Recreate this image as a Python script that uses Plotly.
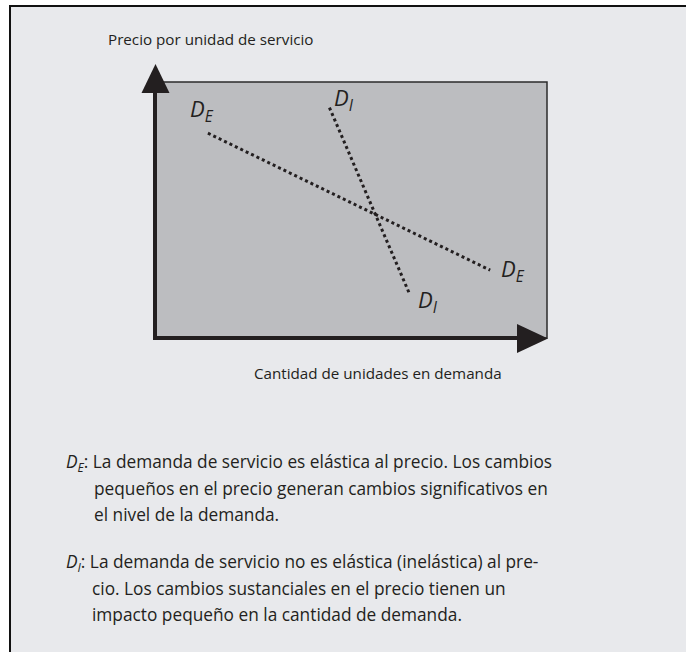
import plotly.graph_objects as go

# Demanda elástica vs. inelástica (unidades conceptuales 0-10)
de_x = [1.35, 8.55]
de_y = [8.0, 2.65]
di_x = [4.45, 6.5]
di_y = [9.0, 1.7]

eje_y_titulo = "Precio por unidad de servicio"
eje_x_titulo = "Cantidad de unidades en demanda"
texto_de = [
    "<i>D<sub>E</sub></i>: La demanda de servicio es elástica al precio. Los cambios",
    "pequeños en el precio generan cambios significativos en",
    "el nivel de la demanda.",
]
texto_di = [
    "<i>D<sub>I</sub></i>: La demanda de servicio no es elástica (inelástica) al pre-",
    "cio. Los cambios sustanciales en el precio tienen un",
    "impacto pequeño en la cantidad de demanda.",
]

W, H = 686, 652
PL, PR, PT, PB = 155, 547, 82, 338  # caja del gráfico en píxeles
FONT = "Open Sans, Noto Sans, sans-serif"
INK = "#231f20"


def px(x):
    return (x - PL) / (PR - PL)


def py(y):
    return (PB - y) / (PB - PT)


fig = go.Figure()
fig.add_trace(go.Scatter(x=de_x, y=de_y, mode="lines",
                         line=dict(color=INK, width=3, dash="3px,3px")))
fig.add_trace(go.Scatter(x=di_x, y=di_y, mode="lines",
                         line=dict(color=INK, width=3, dash="3px,3px")))

shapes = [
    # fondo y marco exterior
    dict(type="rect", xref="paper", yref="paper", layer="below",
         x0=px(10), x1=px(700), y0=py(670), y1=py(6),
         fillcolor="#e8e9ec", line=dict(color="#111", width=2)),
    # caja gris
    dict(type="rect", xref="paper", yref="paper", layer="below",
         x0=0, x1=1, y0=0, y1=1,
         fillcolor="#bcbdc0", line=dict(color="#2b2b2b", width=1.5)),
    # ejes gruesos
    dict(type="line", xref="paper", yref="paper", x0=0, x1=0, y0=0, y1=py(90),
         line=dict(color=INK, width=4)),
    dict(type="line", xref="paper", yref="paper", x0=px(153), x1=px(520), y0=0, y1=0,
         line=dict(color=INK, width=4)),
    # puntas de flecha
    dict(type="path", xref="paper", yref="paper", fillcolor=INK, line=dict(width=0),
         path=f"M {px(141.5)} {py(93)} L {px(155.5)} {py(64)} L {px(169.5)} {py(93)} Z"),
    dict(type="path", xref="paper", yref="paper", fillcolor=INK, line=dict(width=0),
         path=f"M {px(517)} {py(324)} L {px(548)} {py(338.5)} L {px(517)} {py(353)} Z"),
]

ann = []
lab = dict(showarrow=False, font=dict(family=FONT, size=22, color=INK))
ann.append(dict(x=de_x[0], y=de_y[0], xref="x", yref="y", text="<i>D<sub>E</sub></i>",
                xanchor="right", yanchor="bottom", xshift=8, yshift=4, **lab))
ann.append(dict(x=de_x[1], y=de_y[1], xref="x", yref="y", text="<i>D<sub>E</sub></i>",
                xanchor="left", yanchor="middle", xshift=9, yshift=0, **lab))
ann.append(dict(x=di_x[0], y=di_y[0], xref="x", yref="y", text="<i>D<sub>I</sub></i>",
                xanchor="left", yanchor="bottom", xshift=3, yshift=-10, **lab))
ann.append(dict(x=di_x[1], y=di_y[1], xref="x", yref="y", text="<i>D<sub>I</sub></i>",
                xanchor="left", yanchor="top", xshift=6, yshift=12, **lab))

txt = dict(showarrow=False, xref="paper", yref="paper", xanchor="left", yanchor="middle",
           font=dict(family=FONT, size=15.2, color=INK))
ann.append(dict(x=px(106), y=py(39), text=eje_y_titulo, **txt))
ann.append(dict(x=px(252), y=py(373), text=eje_x_titulo, **txt))
txt["font"] = dict(family=FONT, size=17.3, color=INK)
for i, t in enumerate(texto_de):
    ann.append(dict(x=px(64 if i == 0 else 92), y=py(463 + 25.5 * i), text=t, **txt))
for i, t in enumerate(texto_di):
    ann.append(dict(x=px(64 if i == 0 else 90), y=py(563 + 25.5 * i), text=t, **txt))

fig.update_layout(
    width=W, height=H,
    margin=dict(l=PL, r=W - PR, t=PT, b=H - PB, pad=0),
    paper_bgcolor="white", plot_bgcolor="rgba(0,0,0,0)",
    showlegend=False, shapes=shapes, annotations=ann,
    xaxis=dict(range=[0, 10], visible=False, fixedrange=True),
    yaxis=dict(range=[0, 10], visible=False, fixedrange=True),
)
fig.write_html("out.html", config={"displayModeBar": False},
               post_script="document.body.style.margin='0';")
